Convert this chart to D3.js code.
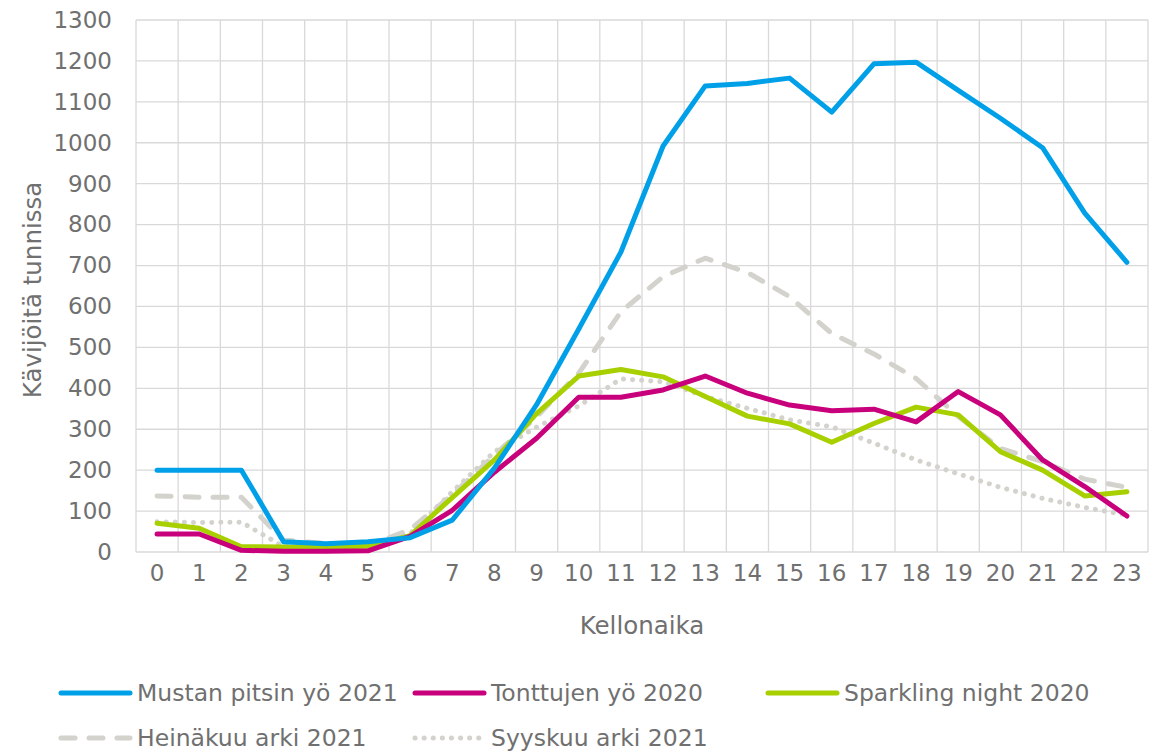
<!DOCTYPE html>
<html>
<head>
<meta charset="utf-8">
<script src="https://cdn.jsdelivr.net/npm/d3@7"></script>
<style>
  body { margin: 0; background: #fff; }
  text { font-family: "DejaVu Sans", Verdana, sans-serif; fill: #707070; }
</style>
</head>
<body>
<svg id="chart" width="1155" height="752"></svg>
<script>
// tunnit 0-23
var hours = d3.range(0, 24).map(String);
var yTicks = d3.range(0, 1301, 100);

var mustan = [200, 200, 200, 25, 20, 25, 35, 78, 205, 360, 545, 733, 992, 1139, 1145, 1158, 1075, 1193, 1197, 1128, 1060, 988, 828, 708];
var tonttujen = [44, 44, 4, 2, 2, 3, 38, 102, 195, 278, 378, 378, 396, 430, 388, 359, 345, 349, 318, 392, 335, 225, 160, 88];
var sparkling = [70, 58, 13, 12, 12, 14, 40, 133, 225, 338, 430, 446, 428, 380, 332, 313, 268, 314, 354, 335, 245, 200, 137, 147];
var heinakuu = [137, 134, 134, 29, 21, 15, 55, 140, 237, 330, 437, 587, 673, 718, 683, 624, 534, 484, 424, 331, 253, 221, 178, 158];
var syyskuu = [74, 72, 73, 13, 13, 13, 45, 147, 245, 305, 357, 423, 416, 380, 351, 323, 306, 266, 225, 191, 158, 131, 109, 90];

var series = [
    {name: "Mustan pitsin yö 2021", values: mustan, color: "#00a0e9", dash: null},
    {name: "Tonttujen yö 2020", values: tonttujen, color: "#c8007c", dash: null},
    {name: "Sparkling night 2020", values: sparkling, color: "#a8d000", dash: null},
    {name: "Heinäkuu arki 2021", values: heinakuu, color: "#d3d2cd", dash: "14,14"},
    {name: "Syyskuu arki 2021", values: syyskuu, color: "#d3d2cd", dash: "0.1,9"}
];

var svg = d3.select("#chart"),
    margin = {top: 20, right: 7, bottom: 200, left: 136},
    width = +svg.attr("width") - margin.left - margin.right,
    height = +svg.attr("height") - margin.top - margin.bottom;

var x = d3.scaleBand().domain(hours).range([0, width]),
    y = d3.scaleLinear().domain([0, 1300]).range([height, 0]);

var g = svg.append("g")
    .attr("transform", "translate(" + margin.left + "," + margin.top + ")");

// rasteri
g.selectAll(".hgrid")
    .data(yTicks)
    .enter().append("line")
    .attr("x1", 0).attr("x2", width)
    .attr("y1", function (d) { return y(d); })
    .attr("y2", function (d) { return y(d); })
    .attr("stroke", "#d9d9d9").attr("stroke-width", 1.3);

var edges = hours.map(function (h) { return x(h); }).concat([width]);
g.selectAll(".vgrid")
    .data(edges)
    .enter().append("line")
    .attr("x1", function (d) { return d; })
    .attr("x2", function (d) { return d; })
    .attr("y1", 0).attr("y2", height)
    .attr("stroke", "#d9d9d9").attr("stroke-width", 1.3);

// akselit
var yAxis = g.append("g").call(d3.axisLeft(y).tickValues(yTicks).tickFormat(d3.format("d")).tickSize(0).tickPadding(24));
yAxis.select(".domain").remove();
yAxis.selectAll("text").style("font-size", "23px").attr("fill", "#707070");

var xAxis = g.append("g")
    .attr("transform", "translate(0," + height + ")")
    .call(d3.axisBottom(x).tickSize(0).tickPadding(13));
xAxis.select(".domain").remove();
xAxis.selectAll("text").style("font-size", "23px").attr("fill", "#707070");

svg.append("text")
    .attr("x", margin.left + width / 2)
    .attr("y", 634)
    .attr("text-anchor", "middle")
    .style("font-size", "24.5px")
    .text("Kellonaika");

svg.append("text")
    .attr("transform", "translate(41,290) rotate(-90)")
    .attr("text-anchor", "middle")
    .style("font-size", "24.5px")
    .text("Kävijöitä tunnissa");

// viivat
var line = d3.line()
    .x(function (d, i) { return x(hours[i]) + x.bandwidth() / 2; })
    .y(function (d) { return y(d); });

g.selectAll(".serie")
    .data(series.slice().reverse())
    .enter().append("path")
    .attr("fill", "none")
    .attr("stroke", function (d) { return d.color; })
    .attr("stroke-width", 5)
    .attr("stroke-linecap", "round")
    .attr("stroke-linejoin", "round")
    .attr("stroke-dasharray", function (d) { return d.dash; })
    .attr("d", function (d) { return line(d.values); });

// selite
var legendPos = [[58, 693], [412, 693], [765, 693], [58, 738], [412, 738]];
var leg = svg.selectAll(".legend")
    .data(series)
    .enter().append("g")
    .attr("transform", function (d, i) { return "translate(" + legendPos[i][0] + "," + legendPos[i][1] + ")"; });

leg.append("line")
    .attr("x1", 3).attr("x2", 72)
    .attr("stroke", function (d) { return d.color; })
    .attr("stroke-width", 5)
    .attr("stroke-linecap", "round")
    .attr("stroke-dasharray", function (d) { return d.dash; });

leg.append("text")
    .attr("x", 79)
    .attr("dy", "0.35em")
    .style("font-size", "23.5px")
    .text(function (d) { return d.name; });
</script>
</body>
</html>
